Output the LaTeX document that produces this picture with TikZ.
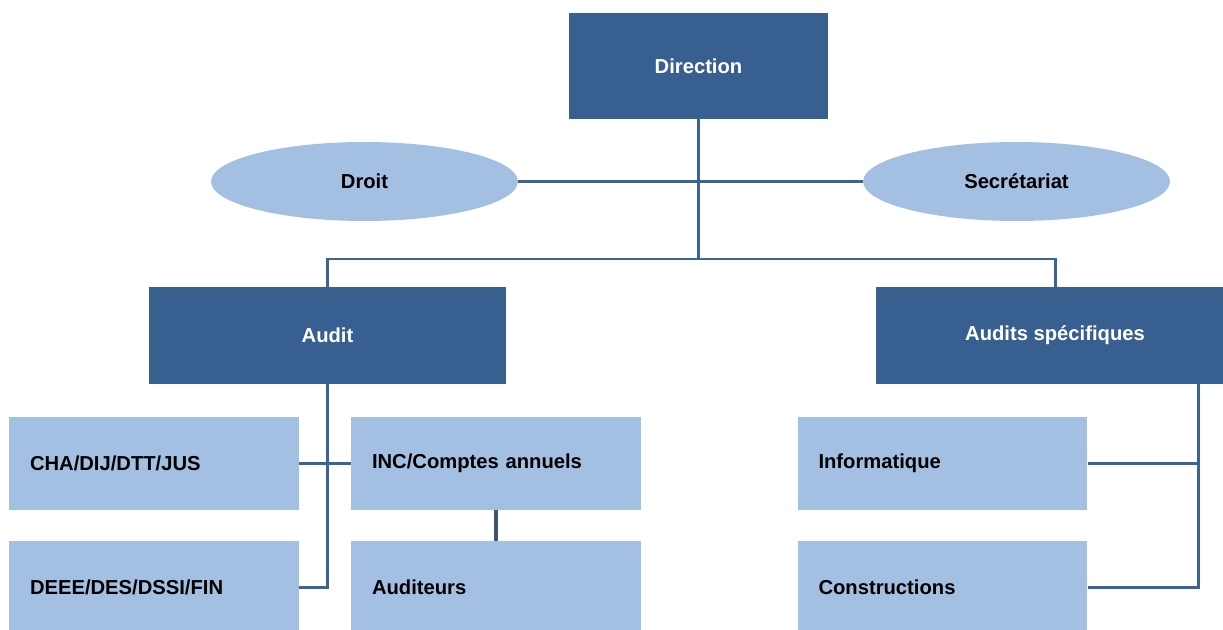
\documentclass[tikz,border=0pt]{standalone}
\usepackage{fontspec}
\setmainfont{Liberation Sans}
\usetikzlibrary{shapes.geometric}

\definecolor{orgdark}{HTML}{375F8F}
\definecolor{orglight}{HTML}{A3C0E3}
\definecolor{orgline}{HTML}{3A6396}
\definecolor{orgstem}{HTML}{43566C}

\begin{document}
\begin{tikzpicture}[x=0.02cm, y=-0.02cm,
    lbl/.style={font=\bfseries\fontsize{11.5}{13}\selectfont},
    head/.style={lbl, rectangle, fill=orgdark, text=white, inner sep=0pt},
    staff/.style={lbl, ellipse, fill=orglight, minimum width=6.14cm, minimum height=1.58cm, inner sep=0pt},
    unit/.style={lbl, rectangle, fill=orglight, minimum width=5.8cm, minimum height=1.86cm,
        inner xsep=0.42cm, text width=4.96cm, align=left},
    link/.style={orgline, line width=1.7pt}]
    \useasboundingbox (0,0) rectangle (1223,629);

    \node[head, minimum width=5.18cm, minimum height=2.12cm] (direc) at (698.5,66) {Direction};
    \node[staff] (droit) at (364.5,181.5) {Droit};
    \node[staff] (secr) at (1016.5,181.5) {Secrétariat};

    \node[head, minimum width=7.14cm, minimum height=1.94cm] (audit) at (327.5,335.5) {Audit};
    \node[head, minimum width=7.16cm, minimum height=1.94cm] (spec) at (1055,335.5) {Audits spécifiques};

    \node[unit] (cha) at (154,463.5) {CHA/DIJ/DTT/JUS};
    \node[unit] (deee) at (154,587.5) {DEEE/DES/DSSI/FIN};
    \node[unit] (inc) at (496,463.5) {INC/Comptes annuels};
    \node[unit] (aud) at (496,587.5) {Auditeurs};
    \node[unit] (info) at (942.5,463.5) {Informatique};
    \node[unit] (cons) at (942.5,587.5) {Constructions};

    \coordinate (split) at (698.5,259);
    \coordinate (specdrop) at (1198,384);

    % top of the chart
    \draw[link] (direc.south) -- (split);
    \draw[link] (droit.east) -- (secr.west);
    \draw[link] (audit.north) |- (split) -| (spec.north);

    % Audit branch
    \draw[link] (audit.south) |- (deee.east);
    \draw[link] (cha.east) -- (inc.west);
    \draw[orgstem, line width=2.3pt] (inc.south) -- (aud.north);

    % specific audits branch
    \draw[link] (info.east) -| (specdrop);
    \draw[link] (cons.east) -| (specdrop);
\end{tikzpicture}
\end{document}
